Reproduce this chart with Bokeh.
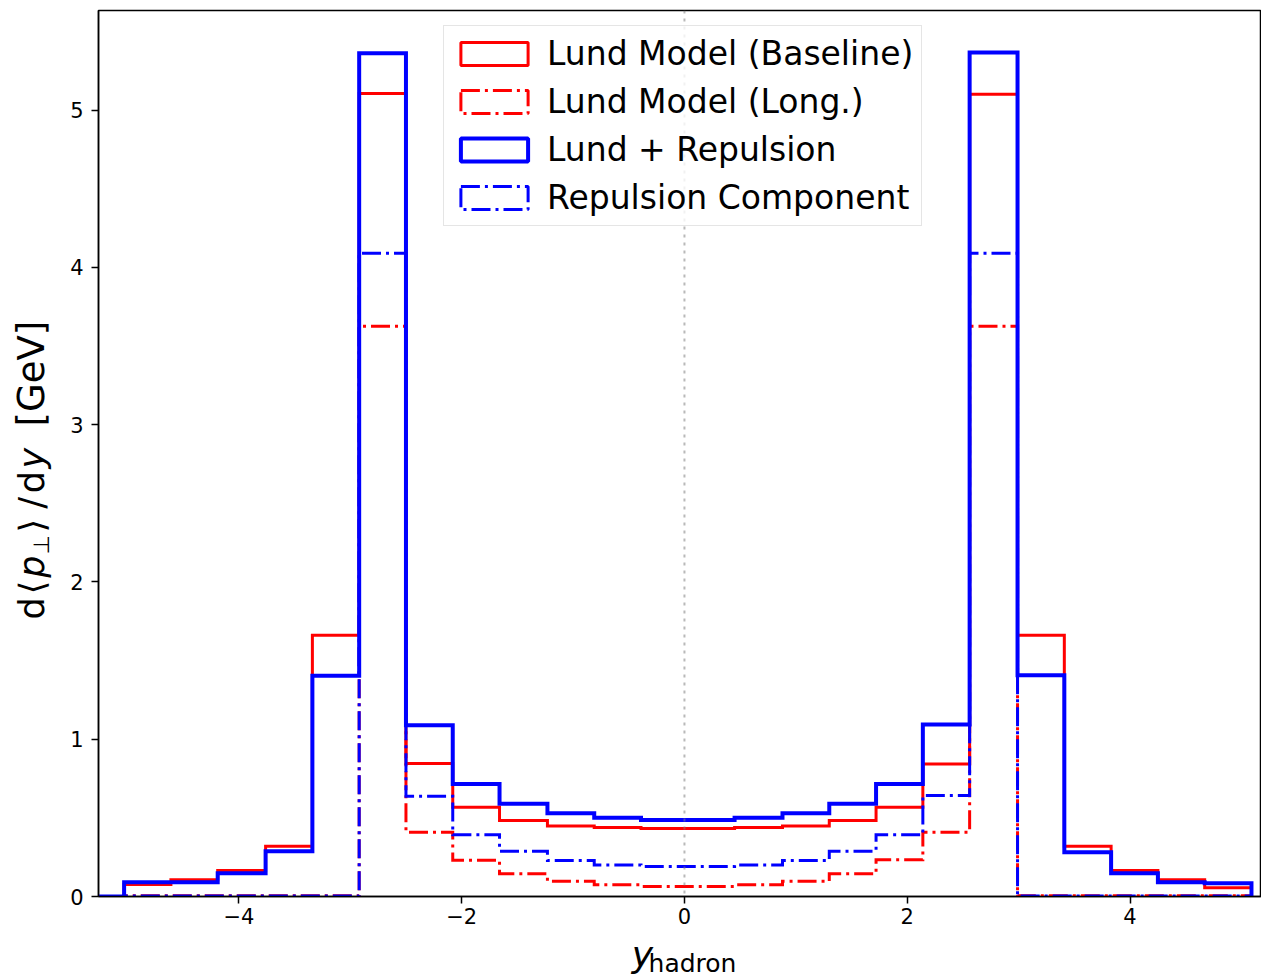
import numpy as np
from bokeh.plotting import figure
from bokeh.layouts import row, column
from bokeh.models import Range1d, Span, Legend, LegendItem, Label, FixedTicker
from bokeh.embed import file_html
from bokeh.resources import INLINE

# ---------------- data ----------------
bin_edges = [-5.45, -5.03, -4.61, -4.19, -3.76, -3.34, -2.92, -2.50, -2.08, -1.66, -1.23,
             -0.81, -0.39, 0.03, 0.45, 0.88, 1.30, 1.72, 2.14, 2.56, 2.99, 3.41,
             3.83, 4.25, 4.67, 5.09]
lund_baseline = [0.0, 0.076, 0.106, 0.165, 0.320, 1.661, 5.105, 0.845, 0.568, 0.483, 0.449,
                 0.439, 0.432, 0.432, 0.439, 0.449, 0.483, 0.568, 0.843, 5.100, 1.661,
                 0.320, 0.165, 0.106, 0.055]
lund_long = [0.0, 0.004, 0.004, 0.004, 0.004, 0.004, 3.626, 0.409, 0.231, 0.144, 0.097,
             0.074, 0.064, 0.064, 0.074, 0.097, 0.144, 0.233, 0.409, 3.626, 0.004,
             0.004, 0.004, 0.004, 0.004]
lund_repulsion = [0.0, 0.091, 0.091, 0.148, 0.288, 1.403, 5.361, 1.089, 0.716, 0.589, 0.530,
                  0.500, 0.487, 0.487, 0.500, 0.530, 0.589, 0.716, 1.093, 5.366, 1.407,
                  0.282, 0.148, 0.091, 0.085]
repulsion_comp = [0.0, 0.003, 0.003, 0.003, 0.003, 0.003, 4.090, 0.638, 0.392, 0.288, 0.229,
                  0.201, 0.191, 0.191, 0.201, 0.229, 0.288, 0.392, 0.642, 4.090, 0.003,
                  0.003, 0.003, 0.003, 0.003]
series_labels = ["Lund Model (Baseline)", "Lund Model (Long.)", "Lund + Repulsion",
                 "Repulsion Component"]
x_ticks = [-4, -2, 0, 2, 4]
y_ticks = [0, 1, 2, 3, 4, 5]

# ---------------- layout ----------------
W, H = 1261, 978
YLAB_W = 60            # strip holding the y-axis title
XLAB_H = 46            # strip holding the x-axis title
MAIN_W = W - YLAB_W
MAIN_H = H - XLAB_H
LEFT, TOP, BOTTOM, RIGHT = 98 - YLAB_W, 10, 36, 0
X0, X1 = -5.26, 5.18
Y0, Y1 = 0.0, 5.633
FONT = "DejaVu Sans"


def step_outline(edges, vals):
    xs = np.repeat(np.asarray(edges, dtype=float), 2)
    ys = np.concatenate([[0.0], np.repeat(np.asarray(vals, dtype=float), 2), [0.0]])
    return xs, ys


p = figure(width=MAIN_W, height=MAIN_H, output_backend="svg", toolbar_location=None,
           x_range=Range1d(X0, X1), y_range=Range1d(Y0, Y1),
           min_border_left=LEFT, min_border_right=RIGHT,
           min_border_top=TOP, min_border_bottom=BOTTOM)
p.background_fill_color = "white"
p.border_fill_color = "white"
p.outline_line_color = "black"
p.outline_line_width = 1.5
p.grid.visible = False

DASHDOT = "19 5 3 5"
styles = [
    dict(line_color="#ff0000", line_width=3, line_dash="solid"),
    dict(line_color="#ff0000", line_width=3, line_dash=DASHDOT),
    dict(line_color="#0000ff", line_width=4, line_dash="solid"),
    dict(line_color="#0000ff", line_width=3, line_dash=DASHDOT),
]
all_series = [lund_baseline, lund_long, lund_repulsion, repulsion_comp]

for vals, st in zip(all_series, styles):
    xs, ys = step_outline(bin_edges, vals)
    p.line(xs, ys, line_join="miter", **st)

# vertical dotted line at y = 0
p.add_layout(Span(location=0, dimension="height", line_color="gray", line_alpha=0.55,
                  line_width=2, line_dash="3 5"))

# legend with rectangle (patch-like) handles; the handle glyphs themselves draw nothing
nan = np.array([np.nan])
handles = []
for st in styles:
    handles.append(p.quad(left=nan, right=nan, top=nan, bottom=nan, fill_color=None, **st))
legend = Legend(items=[LegendItem(label=lab, renderers=[h]) for lab, h in zip(series_labels, handles)],
                location=(345, 670), orientation="vertical",
                label_text_font=FONT, label_text_font_size="33px", label_text_color="black",
                glyph_width=84, glyph_height=29, label_standoff=11, padding=8, spacing=9,
                margin=0, border_line_color="#cccccc", border_line_width=1.5,
                background_fill_color="white", background_fill_alpha=0.8)
p.add_layout(legend)

# axes
for ax in (p.xaxis[0], p.yaxis[0]):
    ax.axis_line_width = 1.5
    ax.major_tick_line_width = 1.5
    ax.major_tick_out = 7
    ax.major_tick_in = 0
    ax.minor_tick_out = 0
    ax.minor_tick_in = 0
    ax.major_label_text_font = FONT
    ax.major_label_text_font_size = "21px"
    ax.major_label_text_color = "black"
p.xaxis.ticker = FixedTicker(ticks=x_ticks)
p.yaxis.ticker = FixedTicker(ticks=y_ticks)
p.xaxis.major_label_overrides = {t: (str(t).replace("-", "\u2212")) for t in x_ticks}
p.xaxis.major_label_standoff = 4
p.yaxis.major_label_standoff = 8


def strip(width, height, y_top):
    f = figure(width=width, height=height, output_backend="svg", toolbar_location=None,
               x_range=Range1d(0, width), y_range=Range1d(y_top + height, y_top),
               x_axis_type=None, y_axis_type=None, min_border=0,
               min_border_left=0, min_border_right=0, min_border_top=0, min_border_bottom=0)
    f.outline_line_color = None
    f.grid.visible = False
    f.background_fill_color = "white"
    f.border_fill_color = "white"
    return f


def piece(fig, x, y, txt, size, style="normal", angle=0.0):
    fig.add_layout(Label(x=x, y=y, text=txt, angle=angle, text_font=FONT,
                         text_font_style=style, text_font_size=size,
                         text_align="center", text_baseline="middle", text_color="black"))


# ---- y-axis title strip: d<p_perp>/dy [GeV] (rotated; centres in pixels from the top) ----
ylab = strip(YLAB_W, MAIN_H, 0)
MID = 31
ypieces = [  # text, style, size, centre along text (px from top), centre across
    ("d", "normal", "35px", 629, MID),
    ("\u27e8", "normal", "35px", 607, MID),
    ("p", "italic", "35px", 585, MID),
    ("\u22a5", "normal", "22px", 562, 41),
    ("\u27e9", "normal", "35px", 542, MID),
    ("/", "normal", "35px", 518, MID),
    ("d", "normal", "35px", 496, MID),
    ("y", "italic", "35px", 471, MID),
    ("[GeV]", "normal", "37px", 382, MID),
]
for txt, fs, size, along, across in ypieces:
    piece(ylab, across, along, txt, size, fs, np.pi / 2)

# ---- x-axis title strip: y_hadron ----
xlab = strip(W, XLAB_H, MAIN_H)
piece(xlab, 642, 954, "y", "36px", "italic")
piece(xlab, 692, 963, "hadron", "25px")

layout = column(row(ylab, p, spacing=0), xlab, spacing=0)
open("out.html", "w").write(file_html(layout, INLINE))
